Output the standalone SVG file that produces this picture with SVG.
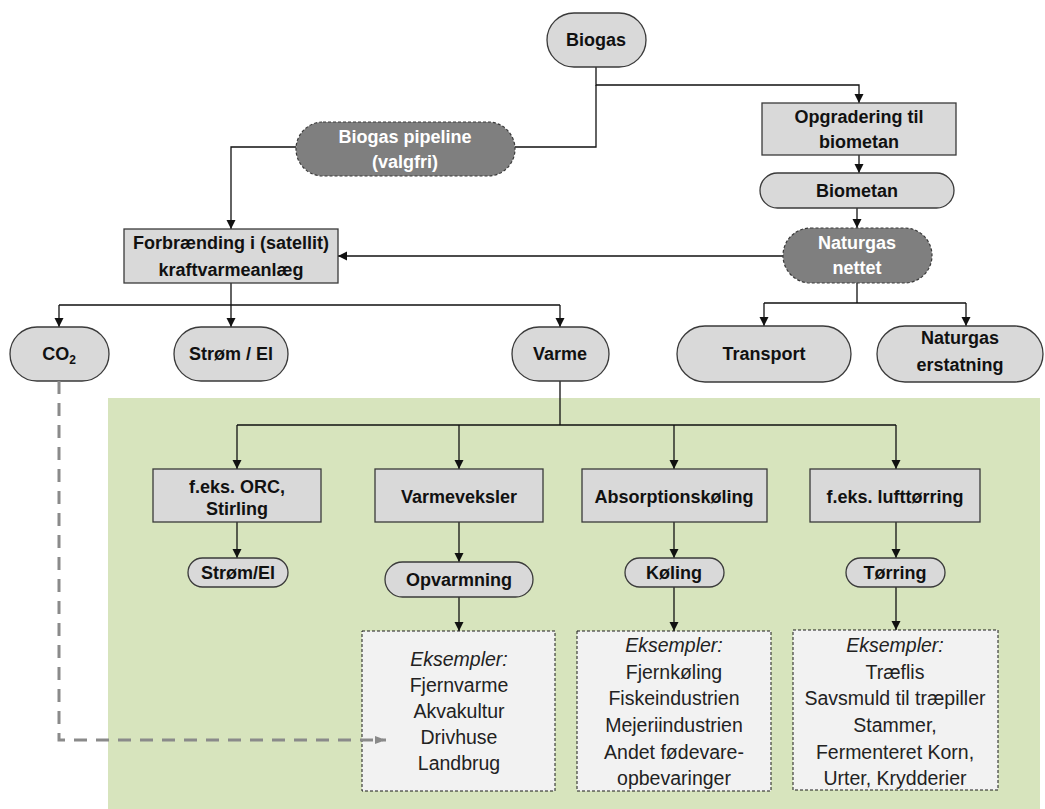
<svg xmlns="http://www.w3.org/2000/svg" width="1045" height="809" viewBox="0 0 1045 809">
<style>
.n{fill:#d9d9d9;stroke:#3a3a3a;stroke-width:1.3}
.d{fill:#7f7f7f;stroke:#3a3a3a;stroke-width:1.2;stroke-dasharray:3 2}
.e{fill:#f2f2f2;stroke:#1a1a1a;stroke-width:1;stroke-dasharray:3 2}
.t{font-family:"Liberation Sans",Arial,sans-serif;font-weight:bold;font-size:18px;fill:#111;text-anchor:middle}
.w{font-family:"Liberation Sans",Arial,sans-serif;font-weight:bold;font-size:18px;fill:#fff;text-anchor:middle}
.x{font-family:"Liberation Sans",Arial,sans-serif;font-size:19.5px;fill:#222;text-anchor:middle}
.c{fill:none;stroke:#111;stroke-width:1.3}
</style>
<defs>
<marker id="a" markerUnits="userSpaceOnUse" markerWidth="10" markerHeight="10" refX="9" refY="5" orient="auto">
<path d="M0,0.5 L9,5 L0,9.5 Z" fill="#111"/>
</marker>
<marker id="g" markerUnits="userSpaceOnUse" markerWidth="12" markerHeight="10" refX="11" refY="5" orient="auto">
<path d="M0,1 L11,5 L0,9 Z" fill="#8a8a8a"/>
</marker>
</defs>
<rect x="108" y="398" width="932" height="411" fill="#d7e4bd"/>
<g id="connectors">
<path class="c" d="M596,67 V85 H859 V103" marker-end="url(#a)"/>
<path class="c" d="M596,85 V147 H515"/>
<path class="c" d="M296,147 H231 V229" marker-end="url(#a)"/>
<path class="c" d="M783,256 H338" marker-end="url(#a)"/>
<path class="c" d="M859,155 V173" marker-end="url(#a)"/>
<path class="c" d="M857,208 V228" marker-end="url(#a)"/>
<path class="c" d="M857,283 V303 M764,303 H966"/>
<path class="c" d="M764,303 V326" marker-end="url(#a)"/>
<path class="c" d="M966,303 V326" marker-end="url(#a)"/>
<path class="c" d="M231,283 V305 M59,305 H560"/>
<path class="c" d="M59,305 V327" marker-end="url(#a)"/>
<path class="c" d="M231,305 V327" marker-end="url(#a)"/>
<path class="c" d="M560,305 V327" marker-end="url(#a)"/>
<path class="c" d="M560,381 V425 M237,425 H896"/>
<path class="c" d="M237,425 V469" marker-end="url(#a)"/>
<path class="c" d="M459,425 V469" marker-end="url(#a)"/>
<path class="c" d="M674,425 V469" marker-end="url(#a)"/>
<path class="c" d="M896,425 V469" marker-end="url(#a)"/>
<path class="c" d="M237,522 V558" marker-end="url(#a)"/>
<path class="c" d="M459,522 V562" marker-end="url(#a)"/>
<path class="c" d="M674,522 V558" marker-end="url(#a)"/>
<path class="c" d="M896,522 V558" marker-end="url(#a)"/>
<path class="c" d="M459,597 V631" marker-end="url(#a)"/>
<path class="c" d="M674,587 V631" marker-end="url(#a)"/>
<path class="c" d="M896,587 V630" marker-end="url(#a)"/>
</g>
<g id="biogas"><rect class="n" x="547" y="13" width="99" height="54" rx="27"/><text class="t" x="596" y="46">Biogas</text></g>
<g id="pipeline"><rect class="d" x="296" y="122" width="219" height="54" rx="27"/><text class="w" x="405" y="143">Biogas pipeline</text><text class="w" x="405" y="168">(valgfri)</text></g>
<g id="opgradering"><rect class="n" x="762" y="103" width="194" height="52"/><text class="t" x="859" y="123">Opgradering til</text><text class="t" x="859" y="148">biometan</text></g>
<g id="biometan"><rect class="n" x="760" y="173" width="194" height="35" rx="17.5"/><text class="t" x="857" y="197">Biometan</text></g>
<g id="naturgas"><rect class="d" x="783" y="228" width="149" height="55" rx="27.5"/><text class="w" x="857" y="249">Naturgas</text><text class="w" x="857" y="274">nettet</text></g>
<g id="forbraending"><rect class="n" x="124" y="229" width="214" height="54"/><text class="t" x="231" y="249">Forbrænding i (satellit)</text><text class="t" x="231" y="276">kraftvarmeanlæg</text></g>
<g id="co2"><rect class="n" x="10" y="327" width="99" height="54" rx="27"/><text class="t" x="59" y="360">CO<tspan font-size="12" dy="4">2</tspan></text></g>
<g id="strom"><rect class="n" x="174" y="327" width="114" height="54" rx="27"/><text class="t" x="231" y="360">Strøm / El</text></g>
<g id="varme"><rect class="n" x="512" y="327" width="97" height="54" rx="27"/><text class="t" x="560" y="360">Varme</text></g>
<g id="transport"><rect class="n" x="677" y="326" width="174" height="56" rx="28"/><text class="t" x="764" y="360">Transport</text></g>
<g id="erstatning"><rect class="n" x="877" y="326" width="166" height="56" rx="28"/><text class="t" x="960" y="344">Naturgas</text><text class="t" x="960" y="371">erstatning</text></g>
<g id="orc"><rect class="n" x="153" y="469" width="168" height="53"/><text class="t" x="237" y="493">f.eks. ORC,</text><text class="t" x="237" y="515">Stirling</text></g>
<g id="varmeveksler"><rect class="n" x="375" y="469" width="168" height="53"/><text class="t" x="459" y="503">Varmeveksler</text></g>
<g id="absorption"><rect class="n" x="582" y="469" width="185" height="53"/><text class="t" x="674" y="503">Absorptionskøling</text></g>
<g id="lufttorring"><rect class="n" x="810" y="469" width="170" height="53"/><text class="t" x="895" y="503">f.eks. lufttørring</text></g>
<g id="stromel"><rect class="n" x="188" y="558" width="100" height="29" rx="14.5"/><text class="t" x="238" y="579">Strøm/El</text></g>
<g id="opvarmning"><rect class="n" x="385" y="562" width="148" height="35" rx="17.5"/><text class="t" x="459" y="586">Opvarmning</text></g>
<g id="koling"><rect class="n" x="625" y="558" width="99" height="29" rx="14.5"/><text class="t" x="674" y="579">Køling</text></g>
<g id="torring"><rect class="n" x="846" y="558" width="99" height="29" rx="14.5"/><text class="t" x="895" y="579">Tørring</text></g>
<g id="ex1"><rect class="e" x="362" y="631" width="193" height="160"/>
<text class="x" x="459" y="666" font-style="italic">Eksempler:</text>
<text class="x" x="459" y="692">Fjernvarme</text>
<text class="x" x="459" y="718">Akvakultur</text>
<text class="x" x="459" y="744">Drivhuse</text>
<text class="x" x="459" y="770">Landbrug</text></g>
<g id="ex2"><rect class="e" x="577" y="631" width="194" height="160"/>
<text class="x" x="674" y="652" font-style="italic">Eksempler:</text>
<text class="x" x="674" y="679">Fjernkøling</text>
<text class="x" x="674" y="705">Fiskeindustrien</text>
<text class="x" x="674" y="732">Mejeriindustrien</text>
<text class="x" x="674" y="759">Andet fødevare-</text>
<text class="x" x="674" y="785">opbevaringer</text></g>
<g id="ex3"><rect class="e" x="793" y="630" width="205" height="160"/>
<text class="x" x="895" y="652" font-style="italic">Eksempler:</text>
<text class="x" x="895" y="679">Træflis</text>
<text class="x" x="895" y="705">Savsmuld til træpiller</text>
<text class="x" x="895" y="732">Stammer,</text>
<text class="x" x="895" y="759">Fermenteret Korn,</text>
<text class="x" x="895" y="785">Urter, Krydderier</text></g>
<g id="co2link"><path d="M59,381 V740 H386" fill="none" stroke="#8a8a8a" stroke-width="3" stroke-dasharray="13 9" marker-end="url(#g)"/></g>
</svg>
